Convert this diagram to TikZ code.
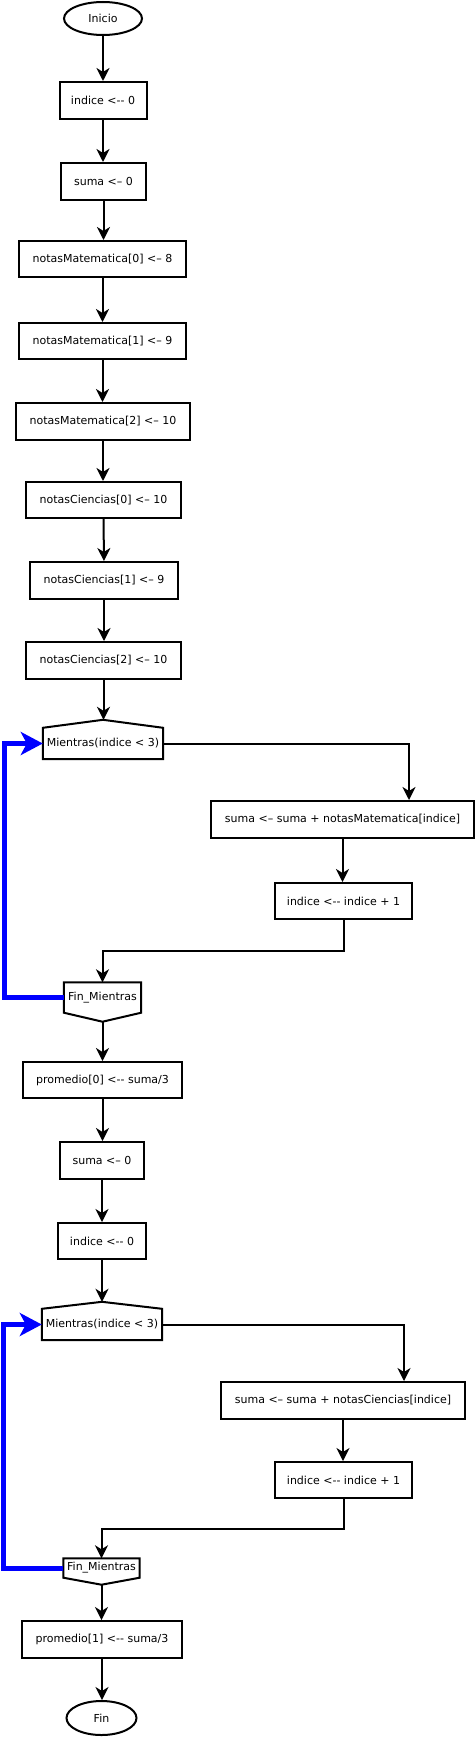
\documentclass[tikz,border=0pt]{standalone}
\usepackage{fontspec}
\setmainfont{DejaVu Sans}
\usetikzlibrary{arrows.meta,calc,shapes.geometric}
\begin{document}
\begin{tikzpicture}[x=1pt,y=-1pt,
  font=\fontsize{11}{13}\selectfont,
  box/.style={draw,line width=2pt,rectangle,inner sep=0pt},
  term/.style={draw,line width=2pt,ellipse,inner sep=0pt},
  loopnode/.style={rectangle,inner sep=0pt},
  loopshape/.style={draw,line width=2pt,line join=miter},
  arr/.style={line width=2pt,-{Stealth[length=13pt,width=13pt,inset=4pt]}},
  back/.style={draw=blue,line width=5pt,-{Stealth[length=22pt,width=23pt,inset=6pt]}}]
\useasboundingbox (0,0) rectangle (476,1737);

\node[term,minimum width=78pt,minimum height=33pt] (inicio) at (103,18.5) {Inicio};
\node[box,minimum width=87pt,minimum height=37pt] (b1) at (103,100.5) {indice <-{}- 0};
\node[box,minimum width=85pt,minimum height=37pt] (b2) at (103.5,181.5) {suma <– 0};
\node[box,minimum width=167pt,minimum height=36pt] (b3) at (102.5,259) {notasMatematica[0] <– 8};
\node[box,minimum width=167pt,minimum height=36pt] (b4) at (102.5,341) {notasMatematica[1] <– 9};
\node[box,minimum width=174pt,minimum height=37pt] (b5) at (103,421.5) {notasMatematica[2] <– 10};
\node[box,minimum width=155pt,minimum height=36pt] (b6) at (103.5,500) {notasCiencias[0] <– 10};
\node[box,minimum width=148pt,minimum height=37pt] (b7) at (104,580.5) {notasCiencias[1] <– 9};
\node[box,minimum width=155pt,minimum height=37pt] (b8) at (103.5,660.5) {notasCiencias[2] <– 10};

\node[loopnode,minimum width=120pt,minimum height=31pt] (m1) at (103,743.5) {Mientras(indice < 3)};
\coordinate (m1p) at ([yshift=8pt]m1.north);
\draw[loopshape] (m1.south west) -- (m1.north west) -- (m1p) -- (m1.north east) -- (m1.south east) -- cycle;

\node[box,minimum width=263pt,minimum height=37pt] (s1) at (342.5,819.5) {suma <– suma + notasMatematica[indice]};
\node[box,minimum width=137pt,minimum height=36pt] (i1) at (343.5,901) {indice <-{}- indice + 1};

\node[loopnode,minimum width=77pt,minimum height=30pt] (f1) at (102.5,997.5) {Fin\_Mientras};
\coordinate (f1p) at ([yshift=-9pt]f1.south);
\draw[loopshape] (f1.north west) -- (f1.south west) -- (f1p) -- (f1.south east) -- (f1.north east) -- cycle;

\node[box,minimum width=159pt,minimum height=36pt] (p0) at (102.5,1080) {promedio[0] <-{}- suma/3};
\node[box,minimum width=84pt,minimum height=37pt] (b9) at (102,1160.5) {suma <– 0};
\node[box,minimum width=88pt,minimum height=36pt] (b10) at (102,1241) {indice <-{}- 0};

\node[loopnode,minimum width=120pt,minimum height=31pt] (m2) at (102,1324.5) {Mientras(indice < 3)};
\coordinate (m2p) at ([yshift=7pt]m2.north);
\draw[loopshape] (m2.south west) -- (m2.north west) -- (m2p) -- (m2.north east) -- (m2.south east) -- cycle;

\node[box,minimum width=244pt,minimum height=37pt] (s2) at (343,1400.5) {suma <– suma + notasCiencias[indice]};
\node[box,minimum width=137pt,minimum height=36pt] (i2) at (343.5,1480) {indice <-{}- indice + 1};

\node[loopnode,minimum width=76pt,minimum height=19pt] (f2) at (101.5,1568) {Fin\_Mientras};
\coordinate (f2p) at ([yshift=-7pt]f2.south);
\draw[loopshape] (f2.north west) -- (f2.south west) -- (f2p) -- (f2.south east) -- (f2.north east) -- cycle;

\node[box,minimum width=160pt,minimum height=37pt] (p1) at (102,1639.5) {promedio[1] <-{}- suma/3};
\node[term,minimum width=70pt,minimum height=34pt] (fin) at (101.5,1718) {Fin};

% connectors
\draw[arr] (inicio.south) -- (inicio.south |- b1.north);
\draw[arr] (b1.south) -- (b1.south |- b2.north);
\draw[arr] (b2.south) -- (b2.south |- b3.north);
\draw[arr] (b3.south) -- (b3.south |- b4.north);
\draw[arr] (b4.south) -- (b4.south |- b5.north);
\draw[arr] (b5.south) -- (b5.south |- b6.north);
\draw[arr] (b6.south) -- (b7.north);
\draw[arr] (b7.south) -- (b7.south |- b8.north);
\draw[arr] (b8.south) -- (b8.south |- m1p);
\draw[arr] (m1.east) -| ([xshift=66.5pt]s1.north);
\draw[arr] (s1.south) -- (s1.south |- i1.north);
\draw[arr] (i1.south) -- ++(0,31) -| (f1.north);
\coordinate (l1) at (4.5,743.5);
\draw[back] (f1.west) -| (l1) -- (m1.west);

\draw[arr] (f1p) -- (f1p |- p0.north);
\draw[arr] (p0.south) -- (p0.south |- b9.north);
\draw[arr] (b9.south) -- (b9.south |- b10.north);
\draw[arr] (b10.south) -- (b10.south |- m2p);
\draw[arr] (m2.east) -| ([xshift=61pt]s2.north);
\draw[arr] (s2.south) -- (s2.south |- i2.north);
\draw[arr] (i2.south) -- ++(0,30) -| (f2.north);
\coordinate (l2) at (3.5,1324.5);
\draw[back] (f2.west) -| (l2) -- (m2.west);

\draw[arr] (f2p) -- (f2p |- p1.north);
\draw[arr] (p1.south) -- (p1.south |- fin.north);
\end{tikzpicture}
\end{document}
